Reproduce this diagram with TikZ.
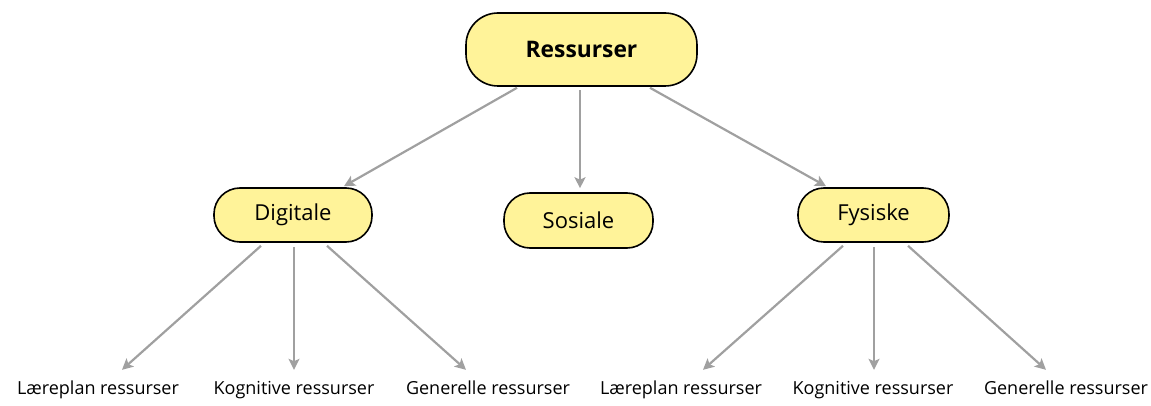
\documentclass[tikz,border=0pt]{standalone}
\usepackage{fontspec}
\setmainfont{Open Sans}
\usetikzlibrary{arrows.meta}
\definecolor{boxfill}{RGB}{255,243,153}
\definecolor{linkgray}{RGB}{160,160,160}
\tikzset{
  x=1pt, y=1pt,
  pill/.style={draw=black, line width=1.6pt, fill=boxfill, rounded corners=26pt,
    inner sep=0pt},
  midtext/.style={font=\fontsize{22}{26}\selectfont},
  leaf/.style={inner sep=0pt, anchor=base, text height=12pt,
    font=\fontsize{18}{21}\selectfont},
  link/.style={draw=linkgray, line width=2.2pt,
    -{Stealth[length=11pt,width=11pt,inset=2.5pt]}}
}
\begin{document}
\begin{tikzpicture}
\useasboundingbox (0,0) rectangle (1151,405);
% top level
\node[pill, rounded corners=32pt, minimum width=231pt, minimum height=73pt,
  font=\fontsize{22.8}{27}\selectfont\bfseries] (top) at (581.5,355.5) {Ressurser};
% middle level
\node[pill, midtext, minimum width=158pt, minimum height=54pt] (dig) at (293,190) {Digitale};
\node[pill, midtext, minimum width=149pt, minimum height=55pt] (sos) at (578.5,184.5) {Sosiale};
\node[pill, midtext, minimum width=151pt, minimum height=54pt] (fys) at (873.5,190) {Fysiske};
% leaves
\node[leaf] (d1) at (98,11) {Læreplan ressurser};
\node[leaf] (d2) at (294,11) {Kognitive ressurser};
\node[leaf] (d3) at (488,11) {Generelle ressurser};
\node[leaf] (f1) at (681,11) {Læreplan ressurser};
\node[leaf] (f2) at (873,11) {Kognitive ressurser};
\node[leaf] (f3) at (1066,11) {Generelle ressurser};
% links from the top
\draw[link] ([xshift=-64.5pt,yshift=-1pt]top.south) -- ([xshift=51pt,yshift=1pt]dig.north);
\draw[link] ([xshift=-1.5pt,yshift=-3pt]top.south) -- ([xshift=1.5pt,yshift=4pt]sos.north);
\draw[link] ([xshift=68.5pt,yshift=-1pt]top.south) -- ([xshift=-47.5pt,yshift=1pt]fys.north);
% links to the leaves
\draw[link] ([xshift=-32pt,yshift=-3pt]dig.south) -- ([xshift=24pt,yshift=12pt]d1.north);
\draw[link] ([xshift=1pt,yshift=-4pt]dig.south) -- ([xshift=0pt,yshift=12pt]d2.north);
\draw[link] ([xshift=34pt,yshift=-3pt]dig.south) -- ([xshift=-22pt,yshift=12pt]d3.north);
\draw[link] ([xshift=-30.5pt,yshift=-3pt]fys.south) -- ([xshift=22pt,yshift=12pt]f1.north);
\draw[link] ([xshift=0.5pt,yshift=-4pt]fys.south) -- ([xshift=1pt,yshift=12pt]f2.north);
\draw[link] ([xshift=34.5pt,yshift=-3pt]fys.south) -- ([xshift=-20pt,yshift=12pt]f3.north);
\end{tikzpicture}
\end{document}
